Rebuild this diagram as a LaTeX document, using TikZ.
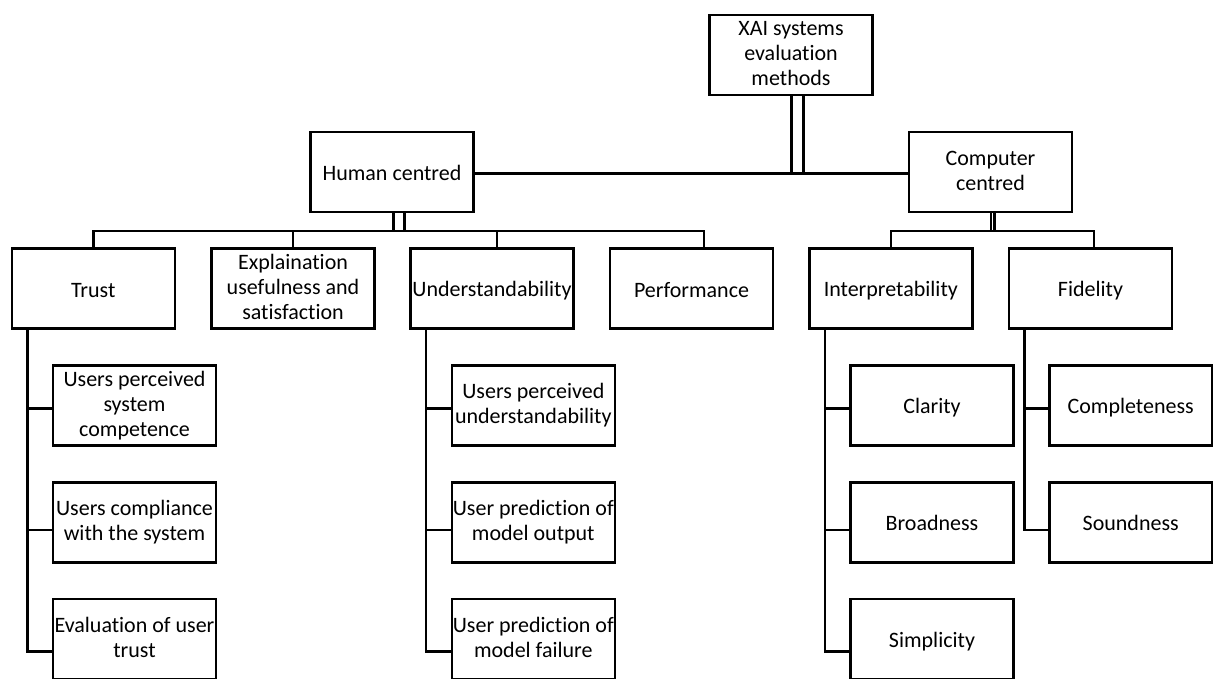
\documentclass[tikz,border=0pt]{standalone}
\usepackage{fontspec}
\setmainfont{Carlito}[Ligatures=NoCommon]
\newcommand{\mystrutA}{\rule[-3pt]{0pt}{23.2pt}}
\begin{document}
\begin{tikzpicture}[x=1pt,y=-1pt,
  box/.style={draw=black, line width=2.6pt, fill=white, minimum width=163pt, minimum height=80pt,
    inner xsep=0.5pt, inner ysep=1pt, align=center, font=\fontsize{22}{25}\selectfont,
    execute at begin node={\mystrutA}, execute at end node={\mystrutA}},
  conn/.style={draw=black, line width=2.6pt, line join=miter, line cap=rect}]
\useasboundingbox (0,0) rectangle (1213,678);
\clip (0,0) rectangle (1213,678);
% coordinates
\coordinate (hbus) at (0,231);
\coordinate (tbus) at (0,173.3);
\coordinate (r1) at (0,408.3);
\coordinate (r2) at (0,530);
\coordinate (r3) at (0,651.7);
\coordinate (tx) at (27.3,0);
\coordinate (ux) at (426,0);
\coordinate (ix) at (825,0);
\coordinate (fx) at (1024.3,0);
% nodes
\node[box] (root) at (791,55) {XAI systems\\evaluation\\methods};
\node[box] (human) at (392,172) {Human centred};
\node[box] (comp) at (990.5,172) {Computer\\centred};
\node[box] (trust) at (93.3,288.5) {Trust};
\node[box] (expl) at (293,288.5) {Explaination\\usefulness and\\satisfaction};
\node[box] (under) at (492,288.5) {Understandability};
\node[box] (perf) at (691.5,288.5) {Performance};
\node[box] (interp) at (890.8,288.5) {Interpretability};
\node[box] (fid) at (1090.5,288.5) {Fidelity};
\node[box] (t1) at (134.5,405.3) {Users perceived\\system\\competence};
\node[box] (t2) at (134.5,522.2) {Users compliance\\with the system};
\node[box] (t3) at (134.5,639) {Evaluation of user\\trust};
\node[box] (u1) at (533.3,405.3) {Users perceived\\understandability};
\node[box] (u2) at (533.3,522.2) {User prediction of\\model output};
\node[box] (u3) at (533.3,639) {User prediction of\\model failure};
\node[box] (i1) at (932,405.3) {Clarity};
\node[box] (i2) at (932,522.2) {Broadness};
\node[box] (i3) at (932,639) {Simplicity};
\node[box] (f1) at (1130.7,405.3) {Completeness};
\node[box] (f2) at (1130.7,522.2) {Soundness};
% top level connectors
\draw[conn] (human.east |- tbus) -- (comp.west |- tbus);
\draw[conn] ([xshift=0.7pt]root.south) -- ([xshift=0.7pt]root.south |- tbus);
\draw[conn] ([xshift=12.3pt]root.south) -- ([xshift=12.3pt]root.south |- tbus);
% human centred
\draw[conn] ([xshift=1.3pt]human.south) -- ([xshift=1.3pt]human.south |- hbus);
\draw[conn] ([xshift=12.3pt]human.south) -- ([xshift=12.3pt]human.south |- hbus);
\draw[conn] (trust.north) -- (trust.north |- hbus) -- ([xshift=12.5pt]perf.north |- hbus) -- ([xshift=12.5pt]perf.north);
\draw[conn] (expl.north) -- (expl.north |- hbus);
\draw[conn] ([xshift=5pt]under.north) -- ([xshift=5pt]under.north |- hbus);
% computer centred
\draw[conn] ([xshift=0.5pt]comp.south) -- ([xshift=0.5pt]comp.south |- hbus);
\draw[conn] ([xshift=3.8pt]comp.south) -- ([xshift=3.8pt]comp.south |- hbus);
\draw[conn] (interp.north) -- (interp.north |- hbus) -- ([xshift=3.5pt]fid.north |- hbus) -- ([xshift=3.5pt]fid.north);
% trust trunk
\draw[conn] (trust.south -| tx) -- (tx |- r3) -- (t3.west |- r3);
\draw[conn] (tx |- r1) -- (t1.west |- r1);
\draw[conn] (tx |- r2) -- (t2.west |- r2);
% understandability trunk
\draw[conn] (under.south -| ux) -- (ux |- r3) -- (u3.west |- r3);
\draw[conn] (ux |- r1) -- (u1.west |- r1);
\draw[conn] (ux |- r2) -- (u2.west |- r2);
% interpretability trunk
\draw[conn] (interp.south -| ix) -- (ix |- r3) -- (i3.west |- r3);
\draw[conn] (ix |- r1) -- (i1.west |- r1);
\draw[conn] (ix |- r2) -- (i2.west |- r2);
% fidelity trunk
\draw[conn] (fid.south -| fx) -- (fx |- r2) -- (f2.west |- r2);
\draw[conn] (fx |- r1) -- (f1.west |- r1);
\end{tikzpicture}
\end{document}
